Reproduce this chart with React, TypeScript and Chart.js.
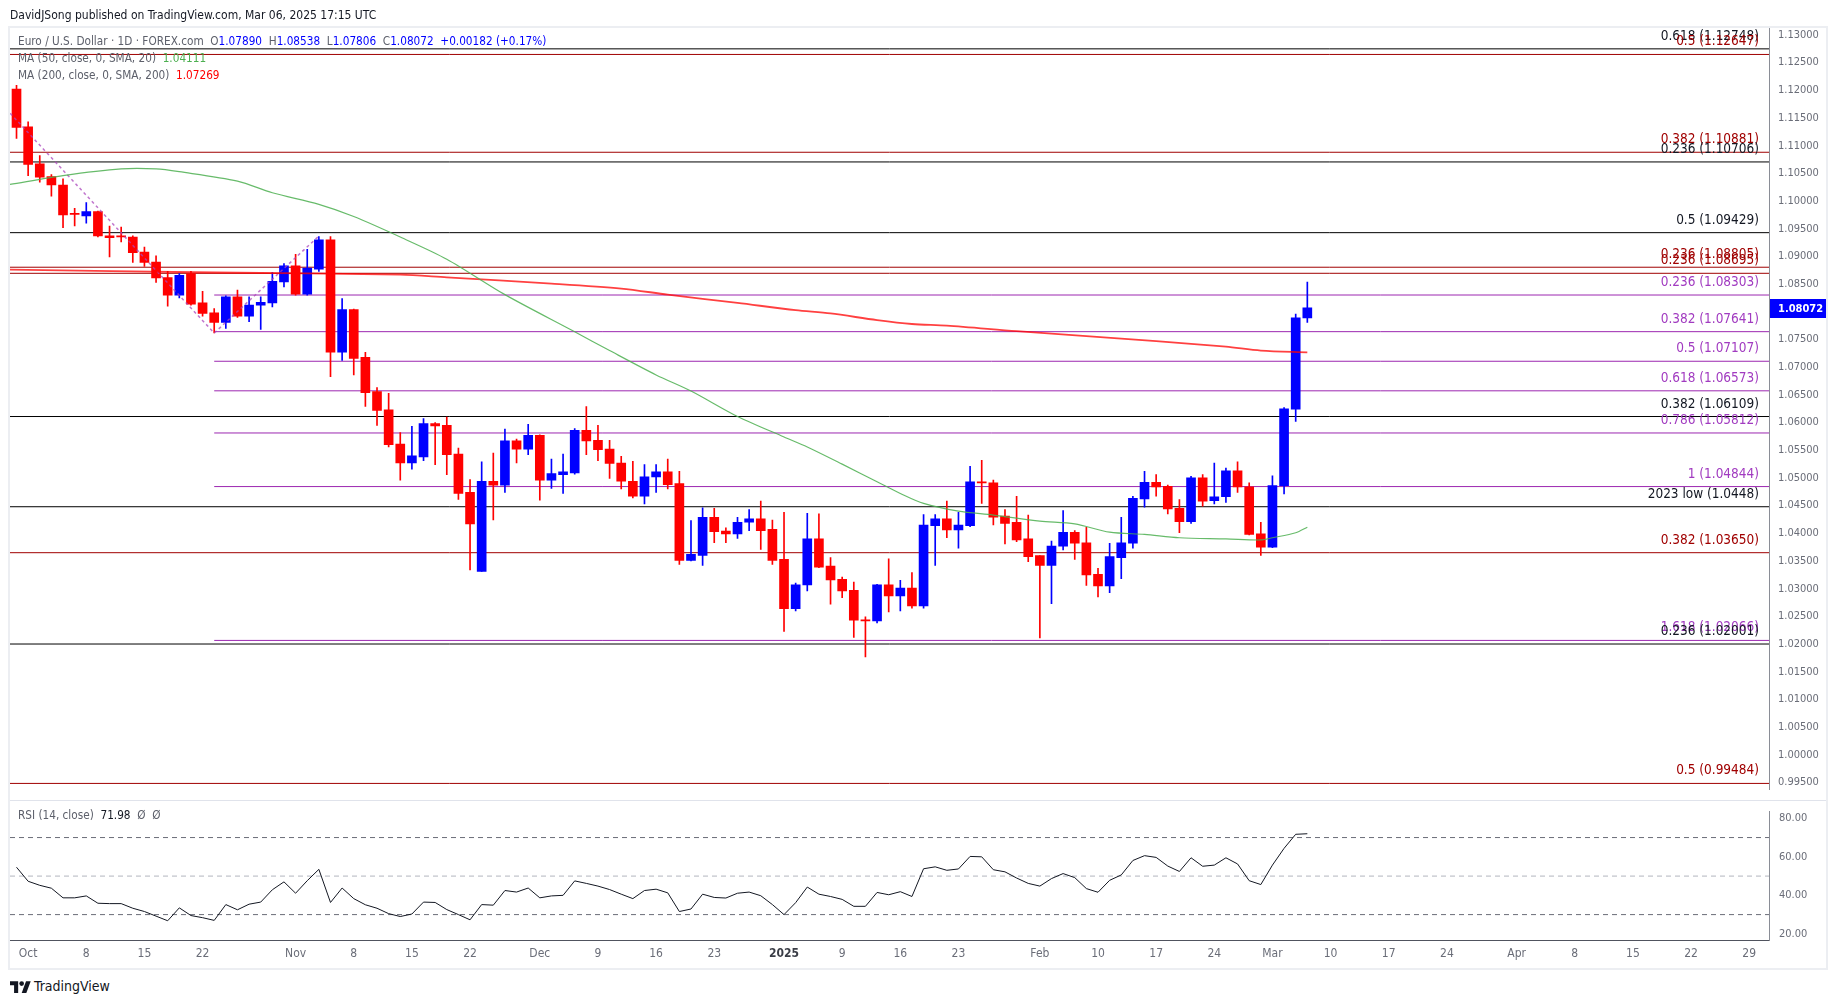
import React, { useEffect, useRef } from "react";
import { Chart, registerables } from "chart.js";

Chart.register(...registerables);

// ---------- DATA ----------
const opens = [
  1.1202, 1.1134, 1.1067, 1.1044, 1.1029, 1.0977, 1.0973, 1.0981, 1.0937, 1.0937,
  1.0935, 1.0908, 1.0890, 1.0862, 1.0830, 1.0869, 1.0816, 1.0798, 1.0781, 1.0827,
  1.0792, 1.0812, 1.0816, 1.0854, 1.0883, 1.0832, 1.0877, 1.0930, 1.0727, 1.0804,
  1.0718, 1.0656, 1.0623, 1.0561, 1.0527, 1.0538, 1.0598, 1.0595, 1.0543, 1.0474,
  1.0331, 1.0494, 1.0487, 1.0567, 1.0552, 1.0577, 1.0496, 1.0506, 1.0509, 1.0586,
  1.0568, 1.0552, 1.0527, 1.0494, 1.0467, 1.0502, 1.0511, 1.0490, 1.0351, 1.0360,
  1.0429, 1.0404, 1.0399, 1.0420, 1.0426, 1.0407, 1.0353, 1.0264, 1.0307, 1.0390,
  1.0341, 1.0317, 1.0297, 1.0243, 1.0242, 1.0307, 1.0287, 1.0301, 1.0269, 1.0414,
  1.0426, 1.0406, 1.0414, 1.0493, 1.0491, 1.0431, 1.0420, 1.0390, 1.0360, 1.0342,
  1.0377, 1.0402, 1.0383, 1.0326, 1.0305, 1.0356, 1.0382, 1.0462, 1.0492, 1.0485,
  1.0445, 1.0421, 1.0500, 1.0459, 1.0466, 1.0513, 1.0484, 1.0399, 1.0375, 1.0486,
  1.0624, 1.0789,
];
const highs = [
  1.1209, 1.1143, 1.1082, 1.1048, 1.1040, 1.0987, 1.0997, 1.0982, 1.0955, 1.0953,
  1.0937, 1.0917, 1.0901, 1.0873, 1.0869, 1.0873, 1.0837, 1.0806, 1.0829, 1.0839,
  1.0827, 1.0827, 1.0871, 1.0887, 1.0904, 1.0913, 1.0936, 1.0936, 1.0824, 1.0805,
  1.0727, 1.0663, 1.0653, 1.0582, 1.0593, 1.0607, 1.0600, 1.0610, 1.0554, 1.0497,
  1.0529, 1.0545, 1.0588, 1.0570, 1.0597, 1.0578, 1.0534, 1.0543, 1.0589, 1.0629,
  1.0595, 1.0568, 1.0539, 1.0530, 1.0524, 1.0524, 1.0534, 1.0512, 1.0423, 1.0446,
  1.0445, 1.0410, 1.0429, 1.0443, 1.0458, 1.0424, 1.0438, 1.0310, 1.0436, 1.0435,
  1.0356, 1.0321, 1.0312, 1.0249, 1.0308, 1.0354, 1.0315, 1.0329, 1.0434, 1.0434,
  1.0458, 1.0438, 1.0521, 1.0532, 1.0496, 1.0443, 1.0467, 1.0433, 1.0360, 1.0386,
  1.0441, 1.0405, 1.0411, 1.0337, 1.0382, 1.0429, 1.0467, 1.0512, 1.0506, 1.0487,
  1.0461, 1.0503, 1.0506, 1.0527, 1.0518, 1.0529, 1.0491, 1.0420, 1.0504, 1.0627,
  1.0796, 1.08538,
];
const lows = [
  1.1113, 1.1046, 1.1034, 1.1009, 1.0952, 1.0955, 1.0960, 1.0935, 1.0899, 1.0926,
  1.0889, 1.0882, 1.0853, 1.0810, 1.0825, 1.0812, 1.0792, 1.0762, 1.0770, 1.0790,
  1.0782, 1.0768, 1.0809, 1.0845, 1.0830, 1.0830, 1.0873, 1.0683, 1.0712, 1.0686,
  1.0629, 1.0595, 1.0556, 1.0496, 1.0516, 1.0531, 1.0524, 1.0506, 1.0461, 1.0334,
  1.0331, 1.0424, 1.0474, 1.0527, 1.0542, 1.0460, 1.0481, 1.0472, 1.0507, 1.0542,
  1.0531, 1.0499, 1.0480, 1.0464, 1.0453, 1.0474, 1.0480, 1.0344, 1.0350, 1.0342,
  1.0383, 1.0383, 1.0391, 1.0405, 1.0371, 1.0344, 1.0223, 1.0260, 1.0296, 1.0338,
  1.0272, 1.0284, 1.0212, 1.0177, 1.0238, 1.0258, 1.0260, 1.0265, 1.0265, 1.0342,
  1.0392, 1.0373, 1.0412, 1.0454, 1.0415, 1.0381, 1.0385, 1.0349, 1.0211, 1.0273,
  1.0370, 1.0353, 1.0306, 1.0285, 1.0293, 1.0318, 1.0373, 1.0447, 1.0467, 1.0435,
  1.0401, 1.0418, 1.0449, 1.0453, 1.0456, 1.0474, 1.0397, 1.0360, 1.0374, 1.0471,
  1.0602, 1.07806,
];
const closes = [
  1.1133, 1.1066, 1.1043, 1.1029, 1.0975, 1.0976, 1.0981, 1.0937, 1.0934, 1.0935,
  1.0907, 1.0889, 1.0861, 1.0830, 1.0866, 1.0814, 1.0797, 1.0781, 1.0827, 1.0792,
  1.0812, 1.0817, 1.0855, 1.0883, 1.0832, 1.0879, 1.0930, 1.0727, 1.0804, 1.0716,
  1.0654, 1.0622, 1.0560, 1.0527, 1.0540, 1.0598, 1.0594, 1.0542, 1.0472, 1.0417,
  1.0494, 1.0487, 1.0567, 1.0552, 1.0577, 1.0496, 1.0508, 1.0511, 1.0586, 1.0567,
  1.0551, 1.0526, 1.0494, 1.0467, 1.0502, 1.0511, 1.0488, 1.0351, 1.0362, 1.0429,
  1.0403, 1.0399, 1.0420, 1.0426, 1.0405, 1.0351, 1.0264, 1.0307, 1.0390, 1.0339,
  1.0316, 1.0296, 1.0243, 1.0242, 1.0307, 1.0287, 1.0301, 1.0269, 1.0415, 1.0426,
  1.0406, 1.0415, 1.0493, 1.0491, 1.0429, 1.0418, 1.0388, 1.0358, 1.0342, 1.0377,
  1.0402, 1.0382, 1.0325, 1.0305, 1.0358, 1.0383, 1.0463, 1.0492, 1.0484, 1.0444,
  1.0421, 1.0500, 1.0458, 1.0466, 1.0513, 1.0484, 1.0398, 1.0375, 1.0486, 1.0625,
  1.0789, 1.08072,
];

const rsiValues = [
  54.6, 47.3, 45.2, 43.7, 38.7, 38.7, 39.7, 35.9, 35.7, 35.7,
  33.3, 31.6, 29.2, 26.8, 33.5, 29.5, 28.4, 27.0, 35.2, 32.5,
  35.4, 36.5, 42.9, 47.0, 41.1, 47.6, 53.5, 36.3, 43.8, 38.3,
  35.1, 33.3, 30.5, 29.0, 30.3, 36.5, 36.3, 32.6, 30.0, 27.3,
  35.2, 34.9, 42.5, 41.7, 43.8, 38.7, 39.7, 40.0, 47.5, 46.2,
  44.8, 43.0, 40.6, 38.3, 42.5, 43.2, 41.3, 31.6, 32.9, 40.6,
  38.9, 38.6, 41.1, 41.7, 39.8, 35.2, 30.0, 36.2, 44.3, 40.6,
  39.4, 37.9, 34.3, 34.3, 41.5, 40.3, 41.9, 39.4, 53.8, 54.8,
  53.0, 53.7, 60.2, 60.0, 53.3, 52.2, 49.0, 46.2, 44.8, 48.7,
  51.3, 49.2, 43.5, 41.6, 47.8, 50.6, 58.1, 60.6, 59.7, 55.2,
  52.4, 59.5, 55.1, 55.7, 59.5, 56.3, 47.6, 45.6, 55.7, 64.4,
  71.7, 71.98,
];

const ma50Idx = [-0.56, 4, 9, 12, 14, 19, 22, 26, 29, 33, 37, 42, 48, 51, 55, 58, 62, 66, 68, 71, 74, 76, 78, 81, 84, 88, 91, 94, 97, 100, 104, 107, 108, 110, 111];
const ma50Val = [1.1030, 1.1046, 1.1058, 1.1058, 1.1053, 1.1036, 1.1015, 1.0994, 1.0972, 1.0935, 1.0895, 1.0831, 1.0764, 1.0730, 1.0686, 1.0657, 1.0611, 1.0574, 1.0556, 1.0525, 1.0493, 1.0472, 1.0454, 1.0440, 1.0433, 1.0422, 1.0417, 1.0402, 1.0398, 1.0392, 1.0390, 1.0388, 1.0392, 1.0401, 1.04111];

const ma200Idx = [-0.56, 17, 33, 37, 46, 52, 56, 62, 67, 70, 74, 77, 80, 86, 92, 98, 104, 107, 111];
const ma200Val = [1.0876, 1.0871, 1.0867, 1.0862, 1.0851, 1.0842, 1.0831, 1.0816, 1.0803, 1.0797, 1.0785, 1.0778, 1.0775, 1.0765, 1.0756, 1.0747, 1.0737, 1.0730, 1.07269];

const fibValues = [1.12748, 1.12647, 1.10881, 1.10706, 1.09429, 1.08805, 1.08695, 1.08303, 1.07641, 1.07107, 1.06573, 1.06109, 1.05812, 1.04844, 1.0448, 1.0365, 1.02066, 1.02001, 0.99484];
const fibLabels = ["0.618 (1.12748)", "0.5 (1.12647)", "0.382 (1.10881)", "0.236 (1.10706)", "0.5 (1.09429)", "0.236 (1.08805)", "0.236 (1.08695)", "0.236 (1.08303)", "0.382 (1.07641)", "0.5 (1.07107)", "0.618 (1.06573)", "0.382 (1.06109)", "0.786 (1.05812)", "1 (1.04844)", "2023 low (1.0448)", "0.382 (1.03650)", "1.618 (1.02066)", "0.236 (1.02001)", "0.5 (0.99484)"];
const fibKinds = ["black", "red", "red", "black", "black", "red", "red", "purple", "purple", "purple", "purple", "black", "purple", "purple", "black", "red", "purple", "black", "red"];

const trendIdx = [-3, 17, 26];
const trendVal = [1.1214, 1.07616, 1.09368];

const timeTickIdx = [1, 6, 11, 16, 24, 29, 34, 39, 45, 50, 55, 60, 66, 71, 76, 81, 88, 93, 98, 103, 108, 113, 118, 123, 129, 134, 139, 144, 149];
const timeTickLabels = ["Oct", "8", "15", "22", "Nov", "8", "15", "22", "Dec", "9", "16", "23", "2025", "9", "16", "23", "Feb", "10", "17", "24", "Mar", "10", "17", "24", "Apr", "8", "15", "22", "29"];

const priceTicks = [0.995, 1.0, 1.005, 1.01, 1.015, 1.02, 1.025, 1.03, 1.035, 1.04, 1.045, 1.05, 1.055, 1.06, 1.065, 1.07, 1.075, 1.08, 1.085, 1.09, 1.095, 1.1, 1.105, 1.11, 1.115, 1.12, 1.125, 1.13];
const rsiTicks = [20, 40, 60, 80];
const rsiLevels = [70, 50, 30];

// ---------- LAYOUT / STYLE ----------
const W = 1835;
const X_MIN = -0.56;
const X_MAX = 150.7;
const Y_MIN = 0.993758;
const Y_MAX = 1.131247;
const RSI_MIN = 16.81;
const RSI_MAX = 83.48;
const FONT = '"DejaVu Sans Condensed", "DejaVu Sans", sans-serif';
const BLUE = "#0000ff";
const RED = "#ff0000";
const KIND_COLOR: Record<string, string> = { black: "#000000", red: "#a00000", purple: "#9c27b0" };
const LABEL_COLOR: Record<string, string> = { black: "#131722", red: "#a00000", purple: "#a13bc0" };
const AXIS_TEXT = "#6a6d78";
const AXIS_LINE = "#8a8d96";

const candleColors = closes.map((c, i) => (c >= opens[i] ? BLUE : RED));

const overlayPlugin = {
  id: "overlay",
  afterDatasetsDraw(chart: any) {
    const { ctx, chartArea, scales } = chart;
    const y = scales.y;
    ctx.save();
    ctx.font = `13.5px ${FONT}`;
    ctx.textAlign = "right";
    ctx.textBaseline = "alphabetic";
    fibValues.forEach((v, i) => {
      ctx.fillStyle = LABEL_COLOR[fibKinds[i]];
      ctx.fillText(fibLabels[i], chartArea.right - 10, y.getPixelForValue(v) - 9);
    });
    ctx.restore();
  },
  afterDraw(chart: any) {
    const { ctx, chartArea, scales } = chart;
    const last = closes[closes.length - 1];
    const py = Math.round(scales.y.getPixelForValue(last));
    ctx.save();
    ctx.fillStyle = BLUE;
    ctx.fillRect(chartArea.right + 1, py - 9, 56, 19);
    ctx.fillStyle = "#ffffff";
    ctx.font = `bold 11px ${FONT}`;
    ctx.textAlign = "left";
    ctx.textBaseline = "middle";
    ctx.fillText(last.toFixed(5), chartArea.right + 9, py + 1);
    ctx.restore();
  },
};

function hLine(v: number, start: number, color: string, extra: any = {}) {
  return {
    type: "line",
    data: [
      { x: start, y: v },
      { x: X_MAX, y: v },
    ],
    borderColor: color,
    borderWidth: 1,
    pointRadius: 0,
    ...extra,
  };
}

export default function App() {
  const mainRef = useRef<HTMLCanvasElement>(null);
  const rsiRef = useRef<HTMLCanvasElement>(null);

  useEffect(() => {
    const fibDatasets = fibValues.map((v, i) =>
      hLine(v, fibKinds[i] === "purple" ? 17 : X_MIN, KIND_COLOR[fibKinds[i]], { order: 10 })
    );
    const main = new Chart(mainRef.current as HTMLCanvasElement, {
      type: "bar",
      data: {
        datasets: [
          ...fibDatasets,
          {
            type: "bar",
            data: highs.map((h, i) => ({ x: i, y: [lows[i], h] })),
            backgroundColor: candleColors,
            barThickness: 1,
            grouped: false,
            order: 6,
          },
          {
            type: "bar",
            data: opens.map((o, i) => ({ x: i, y: [o, closes[i]] })),
            backgroundColor: candleColors,
            barThickness: 9,
            minBarLength: 1,
            grouped: false,
            order: 5,
          },
          {
            type: "line",
            data: trendIdx.map((x, i) => ({ x, y: trendVal[i] })),
            borderColor: "rgba(171,71,188,0.75)",
            borderWidth: 1.5,
            borderDash: [3, 3],
            pointRadius: 0,
            order: 4,
          },
          {
            type: "line",
            data: ma200Idx.map((x, i) => ({ x, y: ma200Val[i] })),
            borderColor: "rgba(255,0,0,0.75)",
            borderWidth: 1.8,
            pointRadius: 0,
            tension: 0.3,
            order: 3,
          },
          {
            type: "line",
            data: ma50Idx.map((x, i) => ({ x, y: ma50Val[i] })),
            borderColor: "rgba(76,175,80,0.85)",
            borderWidth: 1.2,
            pointRadius: 0,
            tension: 0.3,
            order: 2,
          },
        ] as any,
      },
      options: {
        responsive: false,
        animation: false,
        events: [],
        layout: { padding: { left: 10, top: 28, right: 0, bottom: 5 } },
        plugins: { legend: { display: false }, tooltip: { enabled: false } },
        scales: {
          x: { type: "linear", min: X_MIN, max: X_MAX, offset: false, display: false },
          y: {
            type: "linear",
            position: "right",
            min: Y_MIN,
            max: Y_MAX,
            grid: { display: false, drawTicks: false },
            border: { display: true, color: AXIS_LINE, width: 1 },
            afterBuildTicks: (s: any) => {
              s.ticks = priceTicks.map((v) => ({ value: v }));
            },
            afterFit: (s: any) => {
              s.width = 66;
            },
            ticks: {
              padding: 9,
              color: AXIS_TEXT,
              font: { family: FONT, size: 11 },
              callback: (v: any) => Number(v).toFixed(5),
            },
          },
        },
      } as any,
      plugins: [overlayPlugin],
    });

    const rsi = new Chart(rsiRef.current as HTMLCanvasElement, {
      type: "line",
      data: {
        datasets: [
          ...rsiLevels.map((lv) =>
            hLine(lv, X_MIN, lv === 50 ? "#b2b5be" : "#6a6d78", { borderDash: [5, 4], order: 5 })
          ),
          {
            type: "line",
            data: rsiValues.map((v, i) => ({ x: i, y: v })),
            borderColor: "#131722",
            borderWidth: 1,
            pointRadius: 0,
            order: 1,
          },
        ] as any,
      },
      options: {
        responsive: false,
        animation: false,
        events: [],
        layout: { padding: { left: 10, top: 5, right: 0, bottom: 0 } },
        plugins: { legend: { display: false }, tooltip: { enabled: false } },
        scales: {
          x: {
            type: "linear",
            min: X_MIN,
            max: X_MAX,
            offset: false,
            grid: { display: false, drawTicks: false },
            border: { display: true, color: "#50535e", width: 1 },
            afterBuildTicks: (s: any) => {
              s.ticks = timeTickIdx.map((v) => ({ value: v }));
            },
            afterFit: (s: any) => {
              s.height = 30;
            },
            ticks: {
              autoSkip: false,
              maxRotation: 0,
              minRotation: 0,
              padding: 7,
              color: (c: any) => (c.tick && c.tick.label === "2025" ? "#3a3d46" : AXIS_TEXT),
              font: (c: any) => ({
                family: FONT,
                size: 12,
                weight: c.tick && c.tick.label === "2025" ? "bold" : "normal",
              }),
              callback: (_v: any, idx: number) => timeTickLabels[idx] ?? "",
            },
          },
          y: {
            type: "linear",
            position: "right",
            min: RSI_MIN,
            max: RSI_MAX,
            grid: { display: false, drawTicks: false },
            border: { display: true, color: AXIS_LINE, width: 1 },
            afterBuildTicks: (s: any) => {
              s.ticks = rsiTicks.map((v) => ({ value: v }));
            },
            afterFit: (s: any) => {
              s.width = 66;
            },
            ticks: {
              padding: 10,
              color: AXIS_TEXT,
              font: { family: FONT, size: 11 },
              callback: (v: any) => Number(v).toFixed(2),
            },
          },
        },
      } as any,
    });

    return () => {
      main.destroy();
      rsi.destroy();
    };
  }, []);

  const txt = (left: number, cy: number, size: number, extra: React.CSSProperties = {}): React.CSSProperties => ({
    position: "absolute",
    left,
    top: cy - Math.round(size * 0.65),
    lineHeight: `${Math.round(size * 1.3)}px`,
    fontSize: size,
    fontFamily: FONT,
    whiteSpace: "nowrap",
    color: "#5d606b",
    ...extra,
  });

  return (
    <div style={{ position: "fixed", left: 0, top: 0, width: W, height: 1003, background: "#ffffff", overflow: "hidden" }}>
      <div
        style={{
          position: "absolute",
          left: 8,
          top: 26,
          width: 1820,
          height: 944,
          border: "2px solid #eceef2",
          boxSizing: "border-box",
        }}
      />
      <div style={{ position: "absolute", left: 10, top: 800, width: 1816, height: 1, background: "#e0e3eb" }} />
      <canvas ref={mainRef} width={W} height={805} style={{ position: "absolute", left: 0, top: 0 }} />
      <canvas ref={rsiRef} width={W} height={175} style={{ position: "absolute", left: 0, top: 795 }} />

      <div style={txt(10, 15, 12, { color: "#131722" })}>
        DavidJSong published on TradingView.com, Mar 06, 2025 17:15 UTC
      </div>
      <div style={txt(18, 42, 11.7)}>
        Euro / U.S. Dollar · 1D · FOREX.com&nbsp;&nbsp;O<span style={{ color: BLUE }}>1.07890</span>&nbsp;&nbsp;H
        <span style={{ color: BLUE }}>1.08538</span>&nbsp;&nbsp;L<span style={{ color: BLUE }}>1.07806</span>&nbsp;&nbsp;C
        <span style={{ color: BLUE }}>1.08072</span>&nbsp;&nbsp;<span style={{ color: BLUE }}>+0.00182 (+0.17%)</span>
      </div>
      <div style={txt(18, 59, 11.7)}>
        MA (50, close, 0, SMA, 20)&nbsp;&nbsp;<span style={{ color: "#4caf50" }}>1.04111</span>
      </div>
      <div style={txt(18, 76, 11.7)}>
        MA (200, close, 0, SMA, 200)&nbsp;&nbsp;<span style={{ color: RED }}>1.07269</span>
      </div>
      <div style={txt(18, 816, 11.7)}>
        RSI (14, close)&nbsp;&nbsp;<span style={{ color: "#131722" }}>71.98</span>&nbsp;&nbsp;Ø&nbsp;&nbsp;Ø
      </div>

      <div style={{ position: "absolute", left: 10, top: 979, display: "flex", alignItems: "center" }}>
        <svg width="21" height="13" viewBox="0 0 36 22">
          <path d="M14 22H7V9H0V2h14v20z" fill="#131722" />
          <circle cx="20" cy="6" r="4" fill="#131722" />
          <path d="M28 22h-8l7.5-20h8L28 22z" fill="#131722" />
        </svg>
        <span style={{ marginLeft: 3, fontSize: 14, fontFamily: FONT, color: "#131722", lineHeight: "14px" }}>
          TradingView
        </span>
      </div>
    </div>
  );
}
